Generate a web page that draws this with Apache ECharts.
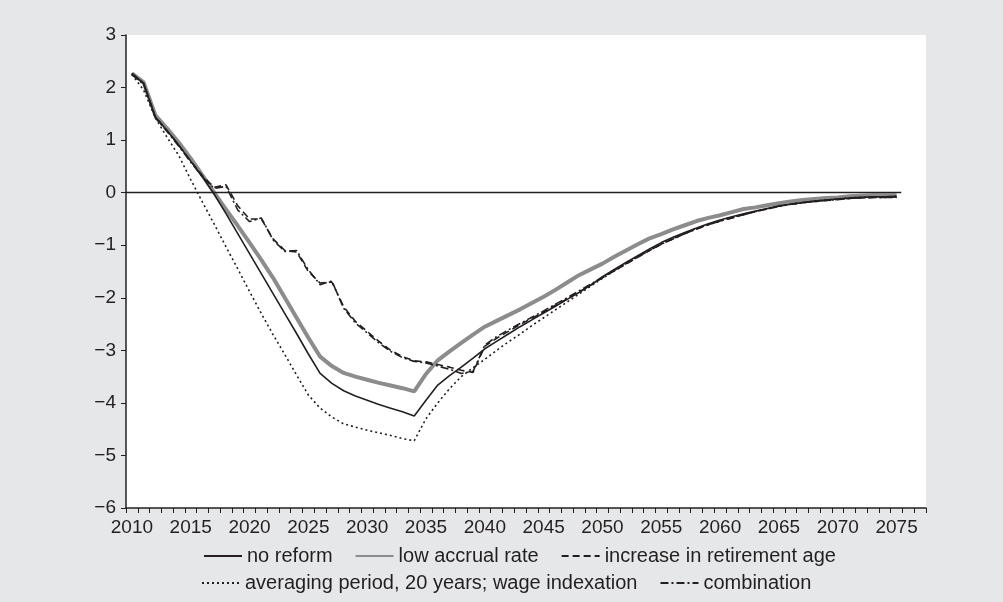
<!DOCTYPE html>
<html>
<head>
<meta charset="utf-8">
<script src="https://cdn.jsdelivr.net/npm/echarts@6/dist/echarts.min.js"></script>
<style>
html,body{margin:0;padding:0;background:#e6e7e8;}
#chart{width:1003px;height:602px;}
</style>
</head>
<body>
<div id="chart"></div>
<script>
// Categories: years on the x axis (2010 ... 2077)
const years = [];
for (let y = 2010; y <= 2077; y++) years.push(String(y));

// Series values, 2010 ... 2075
const noReform = [
  2.27, 2.08, 1.44, 1.18, 0.90, 0.60, 0.30, -0.03, -0.40, -0.78,
  -1.16, -1.54, -1.92, -2.30, -2.68, -3.07, -3.44, -3.63, -3.77, -3.87,
  -3.95, -4.03, -4.10, -4.17, -4.25, -3.95, -3.66, -3.48, -3.32, -3.15,
  -2.97, -2.83, -2.69, -2.55, -2.42, -2.29, -2.16, -2.03, -1.90, -1.76,
  -1.60, -1.46, -1.33, -1.20, -1.07, -0.95, -0.85, -0.76, -0.67, -0.59,
  -0.52, -0.46, -0.40, -0.35, -0.30, -0.25, -0.22, -0.19, -0.16, -0.14,
  -0.12, -0.10, -0.09, -0.08, -0.08, -0.07
];
const lowAccrual = [
  2.27, 2.10, 1.47, 1.22, 0.95, 0.65, 0.33, 0.00, -0.32, -0.63,
  -0.95, -1.28, -1.62, -2.00, -2.38, -2.76, -3.12, -3.30, -3.43, -3.50,
  -3.56, -3.62, -3.67, -3.72, -3.78, -3.45, -3.19, -3.02, -2.86, -2.70,
  -2.55, -2.44, -2.33, -2.22, -2.10, -1.98, -1.85, -1.71, -1.57, -1.46,
  -1.35, -1.22, -1.10, -0.98, -0.87, -0.79, -0.70, -0.62, -0.54, -0.48,
  -0.43, -0.37, -0.31, -0.28, -0.24, -0.20, -0.17, -0.14, -0.12, -0.10,
  -0.09, -0.07, -0.06, -0.05, -0.05, -0.05
];
const retirementAge = [
  2.27, 2.08, 1.44, 1.18, 0.90, 0.60, 0.32, 0.10, 0.15, -0.25,
  -0.50, -0.50, -0.88, -1.10, -1.13, -1.50, -1.72, -1.70, -2.17, -2.45,
  -2.64, -2.83, -3.00, -3.12, -3.20, -3.22, -3.27, -3.32, -3.38, -3.42,
  -2.92, -2.77, -2.64, -2.51, -2.39, -2.27, -2.14, -2.02, -1.89, -1.76,
  -1.62, -1.49, -1.36, -1.23, -1.10, -0.98, -0.88, -0.78, -0.69, -0.61,
  -0.54, -0.48, -0.42, -0.36, -0.31, -0.26, -0.22, -0.19, -0.17, -0.15,
  -0.13, -0.11, -0.10, -0.09, -0.09, -0.08
];
const averagingPeriod = [
  2.25, 1.95, 1.42, 1.05, 0.70, 0.25, -0.18, -0.60, -1.03, -1.45,
  -1.88, -2.30, -2.70, -3.08, -3.47, -3.85, -4.10, -4.27, -4.40, -4.46,
  -4.52, -4.57, -4.62, -4.68, -4.72, -4.30, -4.00, -3.73, -3.50, -3.33,
  -3.17, -3.00, -2.84, -2.69, -2.53, -2.38, -2.23, -2.08, -1.93, -1.78,
  -1.63, -1.49, -1.35, -1.22, -1.09, -0.97, -0.87, -0.77, -0.68, -0.60,
  -0.53, -0.47, -0.41, -0.36, -0.31, -0.26, -0.22, -0.19, -0.16, -0.14,
  -0.12, -0.10, -0.09, -0.08, -0.08, -0.07
];
const combination = [
  2.25, 2.06, 1.42, 1.16, 0.88, 0.58, 0.30, 0.08, 0.12, -0.33,
  -0.55, -0.48, -0.90, -1.12, -1.10, -1.47, -1.75, -1.68, -2.20, -2.48,
  -2.67, -2.86, -3.02, -3.14, -3.21, -3.24, -3.30, -3.36, -3.44, -3.40,
  -2.90, -2.74, -2.61, -2.49, -2.37, -2.25, -2.12, -2.00, -1.87, -1.74,
  -1.61, -1.48, -1.35, -1.22, -1.10, -0.98, -0.88, -0.78, -0.69, -0.61,
  -0.54, -0.48, -0.42, -0.36, -0.31, -0.26, -0.22, -0.19, -0.17, -0.15,
  -0.13, -0.11, -0.10, -0.09, -0.09, -0.09
];
// Y axis range / ticks
const yMin = -6, yMax = 3, yStep = 1;
// Zero reference line span (in years)
const zeroLineFrom = 2009.5, zeroLineTo = 2075.4;

const names = ['no reform', 'low accrual rate', 'increase in retirement age',
  'averaging period, 20 years; wage indexation', 'combination'];

const ink = '#231f20';
const font = 'Liberation Sans, Arial, Helvetica, sans-serif';

const chart = echarts.init(document.getElementById('chart'), null, {renderer: 'canvas'});

function line(name, data, color, width, type, z) {
  return {
    name: name, type: 'line', data: data, xAxisIndex: 0,
    symbol: 'none', showSymbol: false, smooth: false, z: z,
    lineStyle: {color: color, width: width, type: type},
    itemStyle: {color: color},
    emphasis: {disabled: true},
    animation: false
  };
}

const legendBase = {
  orient: 'horizontal',
  itemWidth: 38, itemHeight: 14, itemGap: 22,
  itemStyle: {opacity: 0, borderWidth: 0},
  textStyle: {fontSize: 20, color: ink, fontFamily: font},
  selectedMode: false
};

const option = {
  backgroundColor: '#e6e7e8',
  animation: false,
  textStyle: {fontFamily: font},
  grid: {
    left: 126, right: 77, top: 35, bottom: 94,
    show: true, backgroundColor: '#ffffff', borderWidth: 0,
    containLabel: false
  },
  legend: [
    Object.assign({}, legendBase, {data: names.slice(0, 3), left: 198, top: 541}),
    Object.assign({}, legendBase, {data: names.slice(3), left: 196, top: 568})
  ],
  xAxis: [
    {
      type: 'category', data: years, boundaryGap: true,
      axisLine: {show: true, onZero: false, lineStyle: {color: ink, width: 1.5}},
      axisTick: {show: true, interval: 0, length: 5, inside: false, lineStyle: {color: ink, width: 1}},
      axisLabel: {interval: 4, color: ink, fontSize: 19, margin: 10, fontFamily: font},
      splitLine: {show: false}
    },
    {
      type: 'value', min: 2009.5, max: 2077.5, show: false
    }
  ],
  yAxis: {
    type: 'value', min: yMin, max: yMax, interval: yStep,
    axisLine: {show: true, lineStyle: {color: ink, width: 1.5}},
    axisTick: {show: true, length: 5, lineStyle: {color: ink, width: 1}},
    axisLabel: {
      color: ink, fontSize: 19, margin: 10, fontFamily: font,
      formatter: function (v) { return v < 0 ? '\u2212' + Math.abs(v) : String(v); }
    },
    splitLine: {show: false}
  },
  series: [
    {
      type: 'line', xAxisIndex: 1, data: [], silent: true, z: 1,
      markLine: {
        silent: true, symbol: 'none', animation: false,
        label: {show: false},
        lineStyle: {color: ink, width: 1.3, type: 'solid'},
        data: [[{coord: [zeroLineFrom, 0]}, {coord: [zeroLineTo, 0]}]]
      }
    },
    line(names[1], lowAccrual, '#8c8c8c', 4, 'solid', 2),
    line(names[0], noReform, ink, 1.6, 'solid', 3),
    line(names[2], retirementAge, ink, 1.6, [7, 4], 4),
    line(names[3], averagingPeriod, ink, 1.6, [2, 3], 3),
    line(names[4], combination, ink, 1.6, [8, 3, 2, 3], 4)
  ]
};

chart.setOption(option);
</script>
</body>
</html>
